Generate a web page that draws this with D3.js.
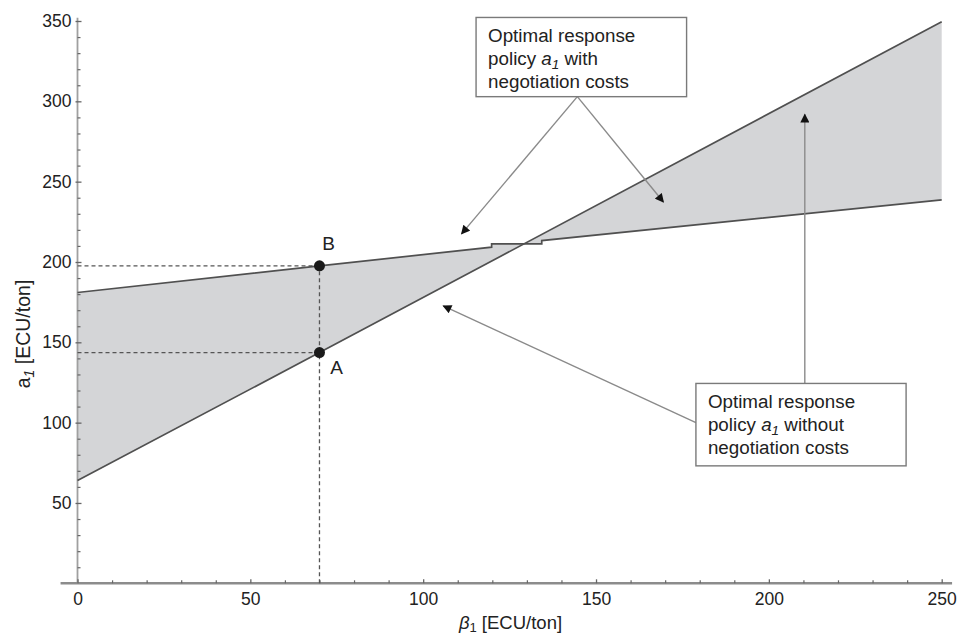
<!DOCTYPE html>
<html>
<head>
<meta charset="utf-8">
<script src="https://cdn.jsdelivr.net/npm/d3@7"></script>
<style>
    body { margin: 0; background: #fff; }
    svg text { font-family: "Liberation Sans", Arial, sans-serif; fill: #222; }
</style>
</head>
<body>
<div id="chart"></div>
<script>
// values
const withoutCosts = [[0, 64], [70, 143.6], [250, 349.5]];          // steep line
const withCosts = [[0, 181], [70, 197.6], [119.8, 209.2], [119.8, 211.3],
                   [134.3, 211.3], [134.3, 213.3], [250, 238.7]];   // flatter line
const pointA = {x: 70, y: 143.6, label: 'A'};
const pointB = {x: 70, y: 197.6, label: 'B'};
const xMajor = [0, 50, 100, 150, 200, 250];
const yMajor = [50, 100, 150, 200, 250, 300, 350];
const minorStep = 10;

// annotation boxes and arrows, in data units
const boxWith = {x0: 115.3, x1: 176.2, y0: 352.2, y1: 302.9,
                 lines: ['Optimal response', 'policy |a|1| with', 'negotiation costs']};
const boxWithout = {x0: 178.9, x1: 239.7, y0: 124.4, y1: 73.1,
                    lines: ['Optimal response', 'policy |a|1| without', 'negotiation costs']};
const arrows = [
    {from: [144.6, 302.9], to: [111.1, 217.5]},
    {from: [144.6, 302.9], to: [169.5, 237.3]},
    {from: [210.4, 124.4], to: [210.4, 291.9]},
    {from: [178.9, 100], to: [105.8, 172.7]}
];

const W = 959, H = 637;
const x = d3.scaleLinear().domain([0, 250]).range([77.5, 941.7]);
const y = d3.scaleLinear().domain([0, 350]).range([583.3, 21]);

const svg = d3.select('#chart').append('svg')
    .attr('width', W)
    .attr('height', H);

svg.append('defs').append('marker')
    .attr('id', 'head')
    .attr('viewBox', '0 0 10 10')
    .attr('refX', 9)
    .attr('refY', 5)
    .attr('markerUnits', 'userSpaceOnUse')
    .attr('markerWidth', 11)
    .attr('markerHeight', 9)
    .attr('orient', 'auto')
    .append('path')
    .attr('d', 'M0,0 L10,5 L0,10 Z')
    .attr('fill', '#111');

// shaded region between the two policies
const line = d3.line().x(d => x(d[0])).y(d => y(d[1]));
const polygon = withCosts.concat(withoutCosts.slice().reverse());
svg.append('path')
    .attr('d', line(polygon) + 'Z')
    .attr('fill', '#d4d5d7')
    .attr('stroke', 'none');

// axes lines
svg.append('line')
    .attr('x1', x(0)).attr('x2', x(0))
    .attr('y1', y(0)).attr('y2', y(352))
    .attr('stroke', '#a0a0a0')
    .attr('stroke-width', 1.8);

svg.append('line')
    .attr('x1', x(-4.9)).attr('x2', x(253))
    .attr('y1', y(0)).attr('y2', y(0))
    .attr('stroke', '#8c8c8c')
    .attr('stroke-width', 2.6);

const minorX = d3.range(minorStep, 250, minorStep).filter(v => v % 50 !== 0);
const minorY = d3.range(minorStep, 350, minorStep).filter(v => v % 50 !== 0);

const yAxisG = svg.append('g')
    .attr('transform', 'translate(' + x(0) + ',0)')
    .call(d3.axisLeft(y).tickValues(yMajor).tickSizeInner(-4).tickSizeOuter(0).tickPadding(6));
yAxisG.select('.domain').remove();
yAxisG.selectAll('.tick line').attr('x1', -2).attr('stroke', '#666').attr('stroke-width', 1.3);
yAxisG.selectAll('.tick text').style('font-size', '17.5px').attr('fill', '#222');

const yMinorG = svg.append('g')
    .attr('transform', 'translate(' + x(0) + ',0)')
    .call(d3.axisLeft(y).tickValues(minorY).tickSizeInner(-3).tickSizeOuter(0).tickFormat(''));
yMinorG.select('.domain').remove();
yMinorG.selectAll('.tick line').attr('stroke', '#666').attr('stroke-width', 1.2);

const xAxisG = svg.append('g')
    .attr('transform', 'translate(0,' + y(0) + ')')
    .call(d3.axisBottom(x).tickValues(xMajor).tickSizeInner(-4).tickSizeOuter(0).tickPadding(9));
xAxisG.select('.domain').remove();
xAxisG.selectAll('.tick line').attr('stroke', '#666').attr('stroke-width', 1.3);
xAxisG.selectAll('.tick text').style('font-size', '17.5px').attr('fill', '#222');

const xMinorG = svg.append('g')
    .attr('transform', 'translate(0,' + y(0) + ')')
    .call(d3.axisBottom(x).tickValues(minorX).tickSizeInner(-3).tickSizeOuter(0).tickFormat(''));
xMinorG.select('.domain').remove();
xMinorG.selectAll('.tick line').attr('stroke', '#666').attr('stroke-width', 1.2);

// axis titles
const xTitle = svg.append('text')
    .attr('x', 510.5)
    .attr('y', 629)
    .attr('text-anchor', 'middle')
    .style('font-size', '18.5px');
xTitle.append('tspan').style('font-style', 'italic').text('β');
xTitle.append('tspan').attr('dy', 3).style('font-size', '13px').text('1');
xTitle.append('tspan').attr('dy', -3).text(' [ECU/ton]');

const yTitle = svg.append('text')
    .attr('transform', 'translate(29.5,334) rotate(-90)')
    .attr('text-anchor', 'middle')
    .style('font-size', '19.5px');
yTitle.append('tspan').text('a');
yTitle.append('tspan').attr('dy', 4).style('font-size', '14px').style('font-style', 'italic').text('1');
yTitle.append('tspan').attr('dy', -4).text(' [ECU/ton]');

// dashed guide lines to A and B
const guides = [
    [[0, pointB.y], [pointB.x, pointB.y]],
    [[0, pointA.y], [pointA.x, pointA.y]],
    [[pointB.x, 0], [pointB.x, pointB.y]]
];
svg.selectAll('.guide')
    .data(guides)
    .enter().append('path')
    .attr('class', 'guide')
    .attr('d', line)
    .attr('fill', 'none')
    .attr('stroke', '#555')
    .attr('stroke-width', 1.3)
    .attr('stroke-dasharray', '4,3');

// policy lines
[withCosts, withoutCosts].forEach(d => {
    svg.append('path')
        .datum(d)
        .attr('d', line)
        .attr('fill', 'none')
        .attr('stroke', '#505050')
        .attr('stroke-width', 1.7);
});

// points A and B
svg.selectAll('.pt')
    .data([pointA, pointB])
    .enter().append('circle')
    .attr('class', 'pt')
    .attr('cx', d => x(d.x))
    .attr('cy', d => y(d.y))
    .attr('r', 5.5)
    .attr('fill', '#1a1a1a');

svg.append('text')
    .attr('x', x(pointB.x) + 9)
    .attr('y', y(pointB.y) - 16)
    .attr('text-anchor', 'middle')
    .style('font-size', '19px')
    .text(pointB.label);

svg.append('text')
    .attr('x', x(pointA.x) + 17)
    .attr('y', y(pointA.y) + 21)
    .attr('text-anchor', 'middle')
    .style('font-size', '19px')
    .text(pointA.label);

// annotation arrows
svg.selectAll('.arrow')
    .data(arrows)
    .enter().append('line')
    .attr('class', 'arrow')
    .attr('x1', d => x(d.from[0]))
    .attr('y1', d => y(d.from[1]))
    .attr('x2', d => x(d.to[0]))
    .attr('y2', d => y(d.to[1]))
    .attr('stroke', '#8a8a8a')
    .attr('stroke-width', 1.4)
    .attr('marker-end', 'url(#head)');

// annotation boxes
function drawBox(b) {
    svg.append('rect')
        .attr('x', x(b.x0))
        .attr('y', y(b.y0))
        .attr('width', x(b.x1) - x(b.x0))
        .attr('height', y(b.y1) - y(b.y0))
        .attr('fill', '#fff')
        .attr('stroke', '#7a7a7a')
        .attr('stroke-width', 1.4);

    b.lines.forEach((txt, i) => {
        const t = svg.append('text')
            .attr('x', x(b.x0) + 12)
            .attr('y', y(b.y0) + 25 + i * 23)
            .style('font-size', '18.8px');
        const parts = txt.split('|');
        if (parts.length === 1) {
            t.text(txt);
        } else {
            t.append('tspan').text(parts[0]);
            t.append('tspan').style('font-style', 'italic').text(parts[1]);
            t.append('tspan').attr('dy', 4).style('font-size', '13.5px').style('font-style', 'italic').text(parts[2]);
            t.append('tspan').attr('dy', -4).text(parts[3]);
        }
    });
}
drawBox(boxWith);
drawBox(boxWithout);
</script>
</body>
</html>
